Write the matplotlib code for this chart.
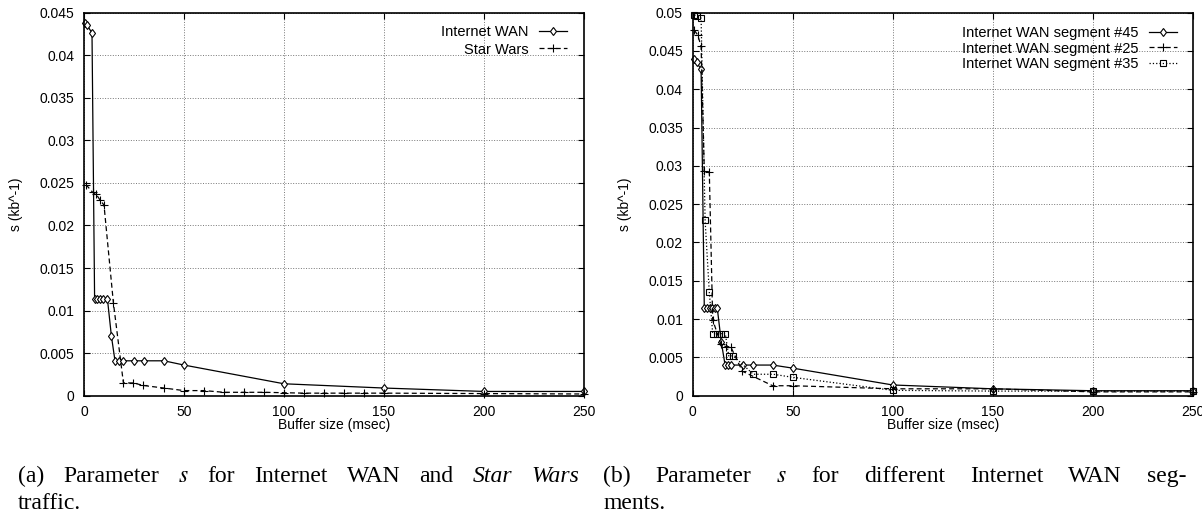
import matplotlib
matplotlib.use('Agg')
import matplotlib.pyplot as plt

# (a) Internet WAN vs Star Wars
wan_x = [0.5, 1.7, 4, 5.3, 6.7, 8, 9.3, 11.7, 13.7, 15.5, 17.5, 19.5, 25, 30, 40, 50, 100, 150, 200, 250]
wan_y = [0.0438, 0.0435, 0.0426, 0.0114, 0.0114, 0.0114, 0.0114, 0.0114, 0.0070, 0.0041,
         0.0041, 0.0041, 0.0041, 0.0041, 0.0041, 0.0036, 0.0014, 0.0009, 0.0005, 0.0005]
sw_x = [1, 4.3, 6, 8, 10, 14.7, 19.7, 24.7, 29.7, 40, 50, 60, 70, 80, 90, 100, 110, 120, 130, 140, 150, 200, 250]
sw_y = [0.0248, 0.0239, 0.0237, 0.0230, 0.0224, 0.0109, 0.0015, 0.0015, 0.0012, 0.0009, 0.0006, 0.0006,
        0.0004, 0.0004, 0.0004, 0.00035, 0.0003, 0.0003, 0.0003, 0.0003, 0.0003, 0.00025, 0.0002]

# (b) WAN segments
s45_x = [0.7, 2, 4.2, 5.8, 7.2, 8.5, 9.7, 11, 12.3, 14.3, 16.2, 17.7, 19.3, 25, 30, 40, 50, 100, 150, 200, 250]
s45_y = [0.0440, 0.0435, 0.0426, 0.0114, 0.0114, 0.0114, 0.0114, 0.0114, 0.0114, 0.0070, 0.0040,
         0.0040, 0.0040, 0.0040, 0.0040, 0.0040, 0.0036, 0.0014, 0.0009, 0.00065, 0.00065]
s25_x = [0.8, 2.5, 4.2, 5.8, 8.3, 10, 14, 16.5, 19, 24.8, 40, 50, 100, 150, 200, 250]
s25_y = [0.0477, 0.0471, 0.0456, 0.0293, 0.0292, 0.0099, 0.0068, 0.0064, 0.0064, 0.0032,
         0.0013, 0.0013, 0.0009, 0.0009, 0.0005, 0.0005]
s35_x = [0.8, 2, 4.2, 6.2, 8.3, 10, 12, 14.3, 16.3, 18, 20.3, 30.3, 40.3, 50, 100, 150, 200, 250]
s35_y = [0.0497, 0.0496, 0.0493, 0.0229, 0.0135, 0.0081, 0.0081, 0.0081, 0.0081, 0.0052, 0.0052,
         0.0028, 0.0028, 0.0024, 0.0007, 0.0006, 0.0006, 0.0006]

x_ticks = [0, 50, 100, 150, 200, 250]
ya_ticks = [0, 0.005, 0.01, 0.015, 0.02, 0.025, 0.03, 0.035, 0.04, 0.045]
ya_labels = ['0', '0.005', '0.01', '0.015', '0.02', '0.025', '0.03', '0.035', '0.04', '0.045']
yb_ticks = ya_ticks + [0.05]
yb_labels = ya_labels + ['0.05']

plt.rcParams['font.family'] = ['Liberation Sans', 'DejaVu Sans']
plt.rcParams['font.size'] = 10
plt.rcParams['mathtext.fontset'] = 'stix'

fig = plt.figure(figsize=(12.02, 5.15), dpi=100)
W, H = 1202, 515
ax1 = fig.add_axes([84 / W, 1 - 395.7 / H, 500 / W, 383 / H])
ax2 = fig.add_axes([692.7 / W, 1 - 395.7 / H, 500 / W, 383 / H])


def style_axes(ax, yticks, ylabels, ymax):
    ax.set_xlim(0, 250)
    ax.set_ylim(0, ymax)
    ax.set_xticks(x_ticks)
    ax.set_yticks(yticks)
    ax.set_yticklabels(ylabels)
    ax.tick_params(direction='in', length=4, width=0.8, top=True, right=True,
                   labelsize=10, pad=6.5)
    ax.tick_params(axis='y', pad=7)
    for sp in ax.spines.values():
        sp.set_linewidth(1.2)
    ax.grid(True, linestyle=':', color='#777777', linewidth=0.7)
    ax.set_xlabel('Buffer size (msec)', fontsize=10)
    ax.set_ylabel('s (kb^-1)', fontsize=10)
    ax.xaxis.set_label_coords(0.5, -0.058)
    ax.yaxis.set_label_coords(-0.122, 0.5)


lw = 0.9
ax1.plot(wan_x, wan_y, '-', color='black', lw=lw, marker='d', ms=4.5, mfc='white', mew=0.8,
         label='Internet WAN', clip_on=False)
ax1.plot(sw_x, sw_y, '--', color='black', lw=lw, dashes=(4, 2.5), marker='+', ms=6, mew=0.8,
         label='Star Wars', clip_on=False)
style_axes(ax1, ya_ticks, ya_labels, 0.045)
ax1.legend(loc='upper right', bbox_to_anchor=(0.966, 0.968), frameon=False, markerfirst=False,
           numpoints=1, handlelength=1.95, handletextpad=0.7, borderpad=0, borderaxespad=0,
           labelspacing=0.25, fontsize=10.5)

ax2.plot(s45_x, s45_y, '-', color='black', lw=lw, marker='d', ms=4.5, mfc='white', mew=0.8,
         label='Internet WAN segment #45', clip_on=False)
ax2.plot(s25_x, s25_y, '--', color='black', lw=lw, dashes=(4, 2.5), marker='+', ms=6, mew=0.8,
         label='Internet WAN segment #25', clip_on=False)
ax2.plot(s35_x, s35_y, ':', color='black', lw=lw, marker='s', ms=5, mfc='none', mew=0.8,
         label='Internet WAN segment #35', clip_on=False)
style_axes(ax2, yb_ticks, yb_labels, 0.05)
ax2.legend(loc='upper right', bbox_to_anchor=(0.969, 0.965), frameon=False, markerfirst=False,
           numpoints=1, handlelength=1.95, handletextpad=0.7, borderpad=0, borderaxespad=0,
           labelspacing=0.1, fontsize=10.5)

# captions, justified like the LaTeX source
serif = ['Liberation Serif', 'DejaVu Serif']
renderer = fig.canvas.get_renderer()
cap_size = 17


def justified(words, x0, x1, ybase):
    texts = []
    for w, italic in words:
        t = fig.text(0, 1 - ybase / H, w, family=serif, fontsize=cap_size,
                     style='italic' if italic else 'normal', va='baseline', ha='left')
        texts.append(t)
    widths = [t.get_window_extent(renderer).width for t in texts]
    gap = (x1 - x0 - sum(widths)) / (len(texts) - 1)
    x = x0
    for t, w in zip(texts, widths):
        t.set_x(x / W)
        x += w + gap


cap_a = [('(a)', False), ('Parameter', False), ('$s$', False), ('for', False), ('Internet', False),
         ('WAN', False), ('and', False), ('Star', True), ('Wars', True)]
cap_b = [('(b)', False), ('Parameter', False), ('$s$', False), ('for', False), ('different', False),
         ('Internet', False), ('WAN', False), ('seg-', False)]
justified(cap_a, 18, 579, 482)
justified(cap_b, 603, 1186, 482)
fig.text(18 / W, 1 - 509 / H, 'traffic.', family=serif, fontsize=cap_size, va='baseline')
fig.text(603 / W, 1 - 509 / H, 'ments.', family=serif, fontsize=cap_size, va='baseline')

fig.savefig('out.png', dpi=100)
